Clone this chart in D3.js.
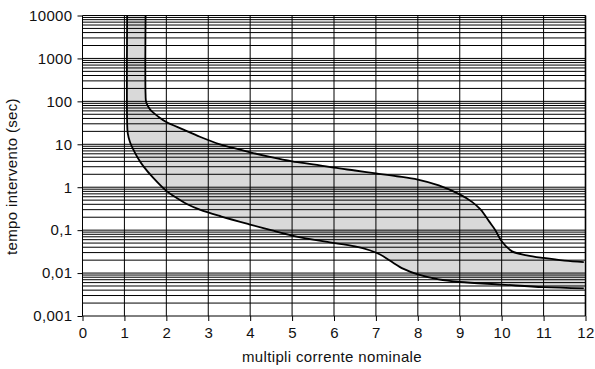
<!DOCTYPE html>
<html>
<head>
<meta charset="utf-8">
<script src="https://cdn.jsdelivr.net/npm/d3@7"></script>
<style>
  html, body { margin: 0; padding: 0; background: #fff; }
  svg { display: block; }
  text { font-family: "Liberation Sans", Arial, Helvetica, sans-serif; fill: #111; }
</style>
</head>
<body>
<svg id="chart" width="595" height="369"></svg>
<script>
// Tripping-time band: upper and lower limit curves, [multiple of rated current, seconds]
const upperCurve = [
  [1.505, 10000], [1.505, 140], [1.52, 95], [1.61, 65], [1.81, 44], [2.0, 33],
  [2.41, 22], [2.8, 15], [3.28, 10], [3.6, 8.2], [4.0, 6.5], [4.5, 5],
  [5.0, 4.0], [5.5, 3.4], [6.0, 2.85], [6.5, 2.45], [7.0, 2.1], [7.5, 1.8],
  [8.0, 1.5], [8.5, 1.1], [9.0, 0.68], [9.3, 0.45], [9.5, 0.3], [9.7, 0.16],
  [9.85, 0.1], [10.0, 0.055], [10.25, 0.032], [10.6, 0.026], [11.0, 0.0225],
  [11.5, 0.0195], [11.96, 0.018]
];
const lowerCurve = [
  [1.065, 10000], [1.065, 32], [1.08, 18], [1.13, 11.5], [1.21, 7.6], [1.31, 5.0],
  [1.45, 3.1], [1.7, 1.6], [2.0, 0.82], [2.2, 0.6], [2.5, 0.4], [2.8, 0.3],
  [3.3, 0.21], [4.0, 0.135], [4.5, 0.1], [5.0, 0.075], [5.5, 0.06], [5.9, 0.052],
  [6.5, 0.042], [6.85, 0.034], [7.1, 0.027], [7.35, 0.019], [7.66, 0.0125],
  [8.0, 0.0093], [8.5, 0.0071], [9.0, 0.0062], [10.0, 0.0054], [11.0, 0.0047],
  [11.96, 0.0044]
];
const xTicks = [0, 1, 2, 3, 4, 5, 6, 7, 8, 9, 10, 11, 12];
const yTicks = [0.001, 0.01, 0.1, 1, 10, 100, 1000, 10000];
const yTickLabels = ["0,001", "0,01", "0,1", "1", "10", "100", "1000", "10000"];
const xTitle = "multipli corrente nominale";
const yTitle = "tempo intervento (sec)";

const svg = d3.select("#chart");
const plotL = 82.5, plotR = 585.5, plotT = 15.5, plotB = 316;
const fontSize = 15, spacing = "0.35px";

const x = d3.scaleLinear().domain([0, 12]).range([plotL, plotR]);
const y = d3.scaleLog().domain([0.001, 10000]).range([plotB, plotT]);

// Band between the two limit curves
const smooth = d3.line().x(d => x(d[0])).y(d => y(d[1])).curve(d3.curveCatmullRom.alpha(0.5));
const bandPath = smooth(upperCurve) + "L" +
  smooth(lowerCurve.slice().reverse()).slice(1) + "Z";
svg.append("path")
  .attr("d", bandPath)
  .attr("fill", "#d9d9d9")
  .attr("stroke", "none");

// Grid: every 1..9 step of each decade, plus every integer multiple
const minor = [];
for (let e = -3; e <= 3; e++) for (let m = 1; m <= 9; m++) minor.push(m * Math.pow(10, e));
minor.push(10000);
const grid = svg.append("g").attr("stroke", "#000").attr("stroke-width", 1);
grid.selectAll("line.h").data(minor).join("line")
  .attr("class", "h")
  .attr("x1", plotL).attr("x2", plotR)
  .attr("y1", d => y(d)).attr("y2", d => y(d));
grid.selectAll("line.v").data(xTicks).join("line")
  .attr("class", "v")
  .attr("x1", d => x(d)).attr("x2", d => x(d))
  .attr("y1", plotT).attr("y2", plotB);
// heavier right edge
svg.append("line")
  .attr("x1", plotR).attr("x2", plotR).attr("y1", plotT).attr("y2", plotB)
  .attr("stroke", "#000").attr("stroke-width", 1.6);

// Limit curves
[upperCurve, lowerCurve].forEach(c => {
  svg.append("path")
    .attr("d", smooth(c))
    .attr("fill", "none")
    .attr("stroke", "#000")
    .attr("stroke-width", 1.8);
});

// Axes
function styleText(sel) {
  sel.attr("font-size", fontSize)
    .style("font-family", "'Liberation Sans', Arial, sans-serif")
    .style("letter-spacing", spacing)
    .attr("fill", "#111");
}
const yAxis = d3.axisLeft(y).tickValues(yTicks)
  .tickFormat((d, i) => yTickLabels[i]).tickSizeOuter(0).tickSize(5).tickPadding(5);
const gy = svg.append("g").attr("transform", `translate(${plotL},0)`).call(yAxis);
gy.select(".domain").remove();
styleText(gy.selectAll("text"));
gy.selectAll("line").attr("stroke", "#000");

const xAxis = d3.axisBottom(x).tickValues(xTicks).tickSizeOuter(0).tickSize(5).tickPadding(6);
const gx = svg.append("g").attr("transform", `translate(0,${plotB})`).call(xAxis);
gx.select(".domain").remove();
styleText(gx.selectAll("text"));
gx.selectAll("line").attr("stroke", "#000");

// Titles
styleText(svg.append("text")
  .attr("x", 332).attr("y", 361.5)
  .attr("text-anchor", "middle")
  .text(xTitle));
styleText(svg.append("text")
  .attr("transform", `translate(17,176.5) rotate(-90)`)
  .attr("text-anchor", "middle")
  .text(yTitle));
</script>
</body>
</html>
